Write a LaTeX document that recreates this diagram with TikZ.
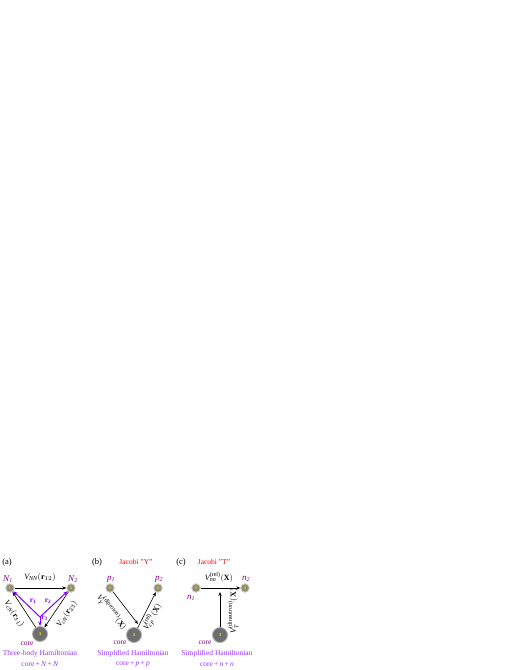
\documentclass[tikz,border=0pt]{standalone}
\usepackage{amsmath}
\usepackage{fontspec}
\setmainfont{Liberation Serif}
\usetikzlibrary{arrows.meta}
\definecolor{pur}{HTML}{800080}
\definecolor{vio}{HTML}{8000FF}
\definecolor{capc}{HTML}{9933FF}
\definecolor{nodeg}{HTML}{8C8C78}
\definecolor{coreg}{HTML}{6E6E6E}
\begin{document}
\begin{tikzpicture}[x=1pt,y=-1pt, font=\fontsize{7.5}{9}\selectfont,
 small/.style={circle,fill=nodeg,draw=nodeg!45!white,line width=0.9pt,minimum size=8.5pt,inner sep=0pt,font=\fontsize{4}{4}\selectfont\bfseries,text=yellow},
 big/.style={circle,fill=coreg,draw=coreg!55!white,line width=0.9pt,minimum size=15pt,inner sep=0pt,font=\fontsize{4.5}{5}\selectfont\bfseries,text=yellow},
 arr/.style={-{Stealth[length=4pt,width=3.2pt]},line width=0.6pt},
 varr/.style={-{Stealth[length=4.5pt,width=3.6pt]},draw=vio,line width=1pt},
 plbl/.style={text=pur,font=\fontsize{9}{10}\selectfont\itshape},
 rlbl/.style={text=vio,font=\fontsize{7.5}{9}\selectfont\bfseries},
 corelbl/.style={text=pur,font=\fontsize{7.5}{9}\selectfont},
 caplbl/.style={text=capc,font=\fontsize{7.5}{9}\selectfont},
 tag/.style={font=\fontsize{8.5}{10}\selectfont},
 jac/.style={text=red,font=\fontsize{7.5}{9}\selectfont},
 vlbl/.style={inner sep=0pt,font=\fontsize{8}{9}\selectfont}]
\useasboundingbox (0,0) rectangle (518,670);
% ---------- (a)
\node[tag] (ta) at (7,562) {(a)};
\node[small] (a1) at (10,588) {1};
\node[small] (a2) at (71,588) {2};
\node[big] (a3) at (40,634) {3};
\coordinate (ac) at (40,617);
\draw[arr] (a1) -- (a2);
\draw[arr] (a3) -- (a1);
\draw[arr] (a2) -- (a3);
\draw[varr] (ac) -- (a1);
\draw[varr] (ac) -- (a2);
\draw[varr] (ac) -- (a3);
\node[vlbl] (la12) at (40,577.5) {$\textit{V}_{\textit{NN}}(\textbf{r}_{12})$};
\node[vlbl,rotate=-57] (la31) at (14,614) {$\textit{V}_{\textit{cN}}(\textbf{r}_{31})$};
\node[vlbl,rotate=57] (la23) at (67,614) {$\textit{V}_{\textit{cN}}(\textbf{r}_{23})$};
\node[rlbl] (r1) at (33,601) {r\textsubscript{1}};
\node[rlbl] (r2) at (48,601) {r\textsubscript{2}};
\node[rlbl] (r3) at (44.5,618.5) {r\textsubscript{3}};
\node[plbl] (N1) at (8,579) {N\textsubscript{1}};
\node[plbl] (N2) at (73,579) {N\textsubscript{2}};
\node[corelbl] (ca) at (27,644) {core};
\node[caplbl] (cap1a) at (40,654) {Three-body Hamiltonian};
\node[caplbl] (cap2a) at (40,664) {core\,+\,\textit{N}\,+\,\textit{N}};
% ---------- (b)
\node[tag] (tb) at (97,562) {(b)};
\node[jac] (jb) at (136,562) {Jacobi "Y"};
\node[small] (b1) at (110,588) {1};
\node[small] (b2) at (158,588) {2};
\node[big] (b3) at (134,635) {3};
\coordinate (bt) at (138,624);
\draw[arr] (b1) -- (bt);
\draw[arr] (b3) -- (b2);
\node[vlbl,rotate=-51] (lb1) at (112,612) {$\textit{V}^{\text{(diproton)}}_{\textit{Y}}(\textbf{X})$};
\node[vlbl,rotate=61] (lb2) at (152,617) {$\textit{V}^{\text{(rel)}}_{\textit{cp}}(\textbf{X})$};
\node[plbl] (p1) at (111,579) {p\textsubscript{1}};
\node[plbl] (p2) at (159,579) {p\textsubscript{2}};
\node[corelbl] (cb) at (120,643) {core};
\node[caplbl] (cap1b) at (133,654) {Simplified Hamiltonian};
\node[caplbl] (cap2b) at (133,664) {core\,+\,\textit{p}\,+\,\textit{p}};
% ---------- (c)
\node[tag] (tc) at (181,562) {(c)};
\node[jac] (jc) at (214,562) {Jacobi "T"};
\node[small] (c1) at (196,588) {1};
\node[small] (c2) at (245,588) {2};
\node[big] (c3) at (220,635) {3};
\coordinate (ct) at (220,592);
\draw[arr] (c1) -- (c2);
\draw[arr] (c3) -- (ct);
\node[vlbl] (lc1) at (219,577) {$\textit{V}^{\text{(rel)}}_{\textit{nn}}(\textbf{X})$};
\node[vlbl,rotate=90] (lc2) at (233,611) {$\textit{V}^{\text{(dineutron)}}_{\textit{T}}(\textbf{X})$};
\node[plbl] (n1) at (191,598) {n\textsubscript{1}};
\node[plbl] (n2) at (246,579) {n\textsubscript{2}};
\node[corelbl] (cc) at (205,643) {core};
\node[caplbl] (cap1c) at (217,654) {Simplified Hamiltonian};
\node[caplbl] (cap2c) at (217,664) {core\,+\,\textit{n}\,+\,\textit{n}};
\end{tikzpicture}
\end{document}
